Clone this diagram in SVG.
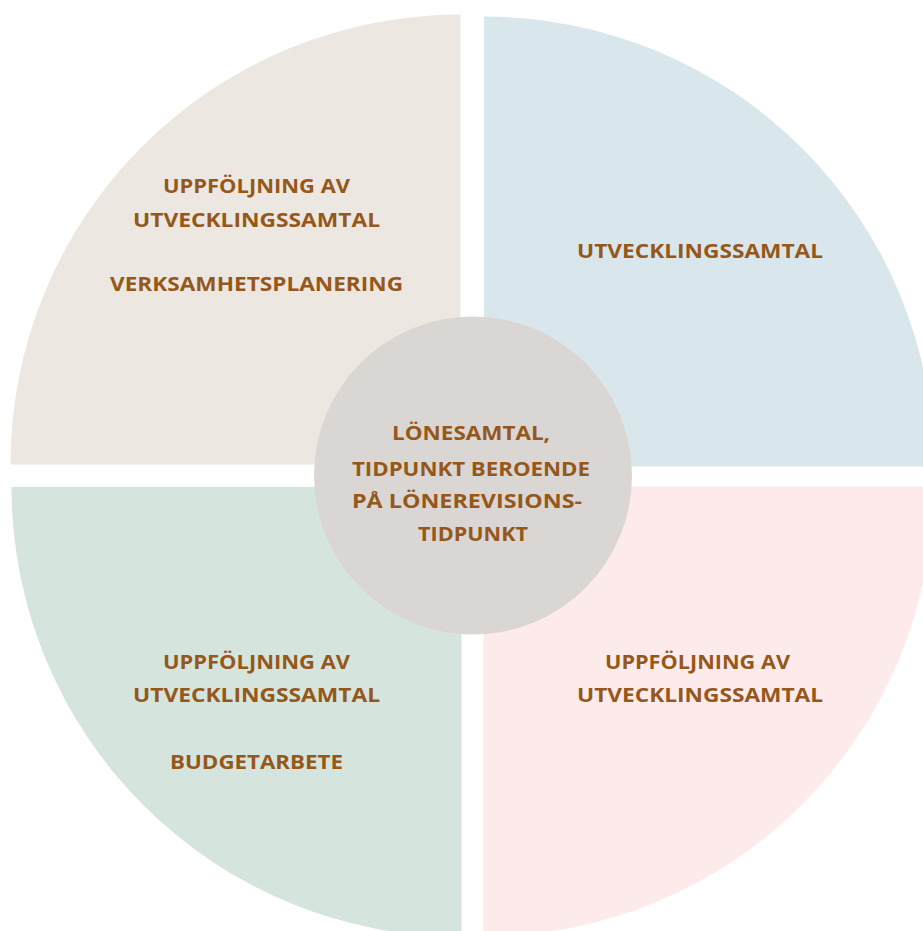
<svg xmlns="http://www.w3.org/2000/svg" width="923" height="931" viewBox="0 0 923 931">
<style>
.t{font-family:"Open Sans","Liberation Sans",sans-serif;font-weight:bold;font-size:20px;fill:#96571A;text-anchor:middle}
</style>
<rect width="923" height="931" fill="#FFFFFF"/>
<g id="q-top-left">
<path d="M460.5,464.5 L10.5,464.5 A450,450 0 0 1 460.5,14.5 Z" fill="#ECE7E0"/>
<text class="t" x="256.5" y="193.3" textLength="187" lengthAdjust="spacingAndGlyphs">UPPFÖLJNING AV</text>
<text class="t" x="256.5" y="226.7" textLength="247" lengthAdjust="spacingAndGlyphs">UTVECKLINGSSAMTAL</text>
<text class="t" x="256.5" y="291" textLength="293" lengthAdjust="spacingAndGlyphs">VERKSAMHETSPLANERING</text>
</g>
<g id="q-top-right">
<path d="M484,466.5 L484,16.5 A450,450 0 0 1 934,466.5 Z" fill="#D9E7EC"/>
<text class="t" x="700" y="258.3" textLength="246" lengthAdjust="spacingAndGlyphs">UTVECKLINGSSAMTAL</text>
</g>
<g id="q-bottom-left">
<path d="M461.5,487 L461.5,937 A450,450 0 0 1 11.5,487 Z" fill="#D5E5DE"/>
<text class="t" x="256.5" y="669.3" textLength="187" lengthAdjust="spacingAndGlyphs">UPPFÖLJNING AV</text>
<text class="t" x="256.5" y="702.3" textLength="247" lengthAdjust="spacingAndGlyphs">UTVECKLINGSSAMTAL</text>
<text class="t" x="256.5" y="769" textLength="173" lengthAdjust="spacingAndGlyphs">BUDGETARBETE</text>
</g>
<g id="q-bottom-right">
<path d="M483.5,486.5 L933.5,486.5 A450,450 0 0 1 483.5,936.5 Z" fill="#FCEBEA"/>
<text class="t" x="697.5" y="669.3" textLength="185" lengthAdjust="spacingAndGlyphs">UPPFÖLJNING AV</text>
<text class="t" x="700" y="702.3" textLength="246" lengthAdjust="spacingAndGlyphs">UTVECKLINGSSAMTAL</text>
</g>
<g id="center">
<circle cx="473" cy="475.5" r="159" fill="#DAD6D3"/>
<text class="t" x="471" y="440" textLength="158" lengthAdjust="spacingAndGlyphs">LÖNESAMTAL,</text>
<text class="t" x="471" y="475.7" textLength="238" lengthAdjust="spacingAndGlyphs">TIDPUNKT BEROENDE</text>
<text class="t" x="467" y="507.5" textLength="230" lengthAdjust="spacingAndGlyphs">PÅ LÖNEREVISIONS-</text>
<text class="t" x="473" y="540.7" textLength="110" lengthAdjust="spacingAndGlyphs">TIDPUNKT</text>
</g>
<g id="connectors"/>
</svg>
